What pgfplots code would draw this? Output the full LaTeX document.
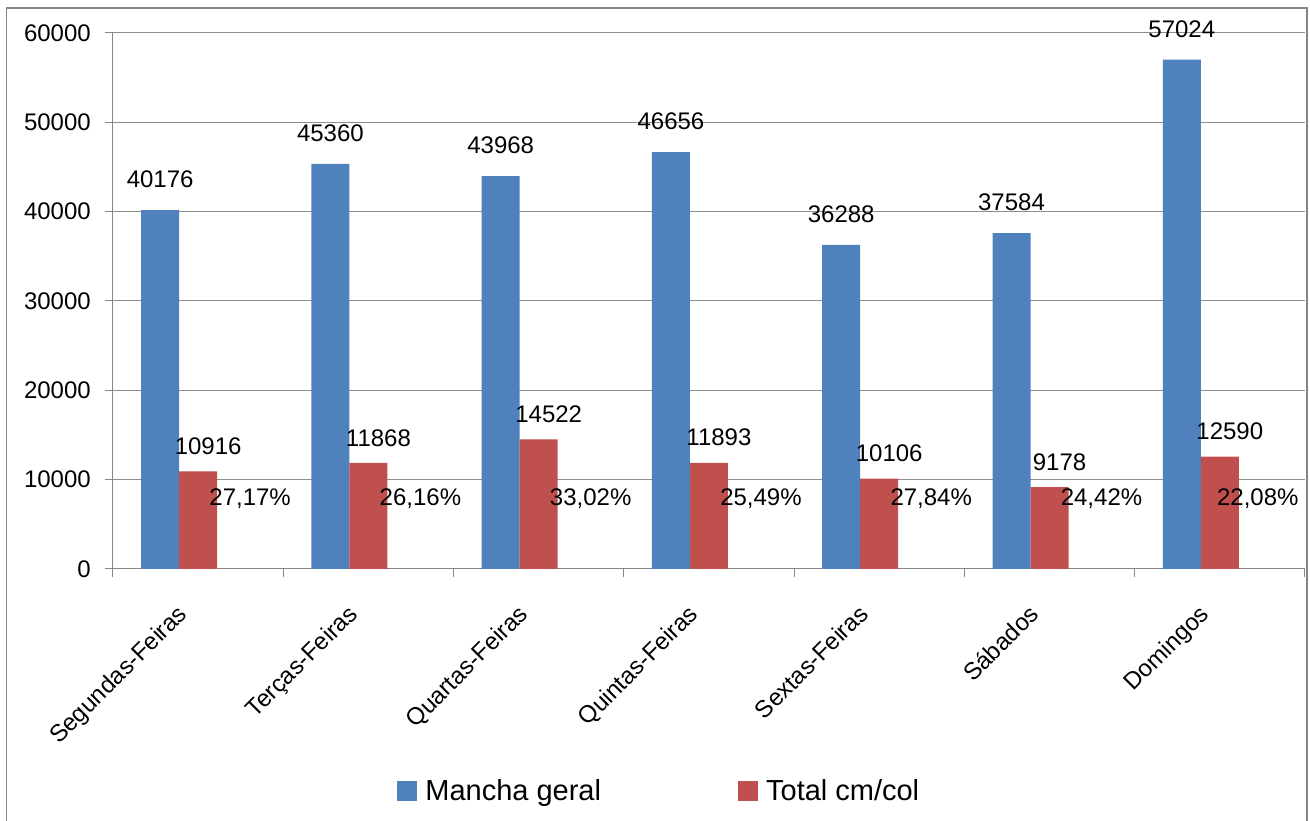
\documentclass[border=0pt]{standalone}
\usepackage{pgfplots}
\pgfplotsset{compat=1.18}
\usepackage{fontspec}
\setmainfont{Liberation Sans}
\definecolor{bblue}{HTML}{4F81BD}
\definecolor{rred}{HTML}{C0504D}
\definecolor{axgray}{HTML}{868686}
\definecolor{grgray}{HTML}{8E8E8E}
\newcommand{\lblfont}{\fontsize{24}{28}\selectfont}
\newcommand{\legfont}{\fontsize{29}{34}\selectfont}
\begin{document}
\begin{tikzpicture}
\path[use as bounding box] (0pt,0pt) rectangle (1310pt,821pt);
\draw[axgray, line width=1.3pt] (6.5pt,-5pt) rectangle (1307pt,813pt);
\begin{axis}[
  at={(113pt,252pt)}, anchor=south west,
  width=1192pt, height=536pt, scale only axis,
  clip=false,
  ybar=0pt, bar width=38pt,
  xmin=-0.5, xmax=6.5, ymin=0, ymax=60000,
  scaled y ticks=false,
  xtick={0,...,6},
  xticklabels={Segundas-Feiras,Terças-Feiras,Quartas-Feiras,Quintas-Feiras,Sextas-Feiras,Sábados,Domingos},
  ytick={0,10000,20000,30000,40000,50000,60000},
  yticklabels={0,10000,20000,30000,40000,50000,60000},
  axis x line*=bottom, axis y line*=left,
  axis line style={draw=axgray, line width=1pt, -},
  xtick pos=left, ytick pos=left,
  tick align=outside, major tick length=8pt,
  xtick style={draw=none},
  extra x ticks={-0.5,0.5,...,6.5}, extra x tick labels={},
  extra x tick style={xtick style={draw=axgray, line width=1pt}, grid=none},
  ytick style={draw=axgray, line width=1pt},
  ymajorgrids, grid style={grgray, line width=1pt},
  tick label style={font=\lblfont},
  yticklabel style={inner sep=0pt, xshift=-14pt},
  xticklabel style={xshift=-22pt, yshift=-26pt, rotate=45, anchor=north east, inner sep=0pt},
  point meta=explicit symbolic,
  nodes near coords,
  every node near coord/.append style={font=\lblfont, inner sep=0pt, anchor=south, text=black},
  legend columns=2,
  legend style={draw=none, fill=none, font=\legfont,
    at={(axis description cs:0.4575,-0.4143)}, anchor=center,
    nodes={inner sep=0pt},
    /tikz/every odd column/.append style={column sep=8pt},
    /tikz/every even column/.append style={column sep=137pt}},
  legend image code/.code={\fill[#1] (0pt,-10pt) rectangle (20pt,10pt);},
]
\addplot[fill=bblue, draw=none, bar shift=-38pt, every node near coord/.append style={yshift=22pt}]
  coordinates {(0,40176) [40176] (1,45360) [45360] (2,43968) [43968] (3,46656) [46656]
               (4,36288) [36288] (5,37584) [37584] (6,57024) [57024]};
\addplot[fill=rred, draw=none, bar shift=0pt, every node near coord/.append style={xshift=10pt, yshift=16.5pt}]
  coordinates {(0,10916) [10916] (1,11868) [11868] (2,14522) [14522] (3,11893) [11893]
               (4,10106) [10106] (5,9178) [9178] (6,12590) [12590]};
\addplot[fill=none, draw=none, bar shift=38pt, every node near coord/.append style={xshift=14pt, yshift=60pt}]
  coordinates {(0,27.17) [27{,}17\%] (1,26.16) [26{,}16\%] (2,33.02) [33{,}02\%] (3,25.49) [25{,}49\%]
               (4,27.84) [27{,}84\%] (5,24.42) [24{,}42\%]};
\addplot[fill=none, draw=none, bar shift=38pt, every node near coord/.append style={xshift=0pt, yshift=60pt}]
  coordinates {(6,22.08) [22{,}08\%]};
\legend{Mancha geral, Total cm/col}
\end{axis}
\end{tikzpicture}
\end{document}
